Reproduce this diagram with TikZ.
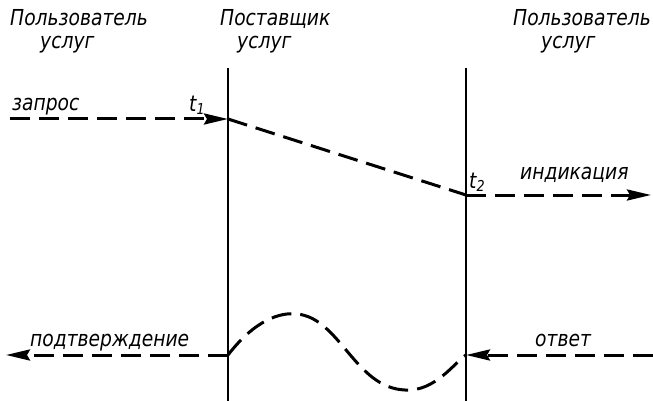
\documentclass[tikz,border=0pt]{standalone}
\usepackage{fontspec}
\setmainfont{DejaVu Sans}[FakeStretch=0.85]
\usetikzlibrary{arrows.meta}
\begin{document}
\begin{tikzpicture}[x=1pt,y=-1pt,
  lbl/.style={font=\fontsize{22}{24}\selectfont\itshape, inner sep=0pt, anchor=base west},
  life/.style={line width=1.8pt},
  msg/.style={line width=3pt, dash pattern=on 20pt off 9pt},
  tip/.style={-{Stealth[length=24pt,width=11pt,inset=3pt]}}]
\useasboundingbox (0,0) rectangle (653,401);
% lifelines
\coordinate (a1) at (228,68); \coordinate (a2) at (228,401);
\coordinate (b1) at (466,68); \coordinate (b2) at (466,401);
\draw[life] (a1) -- (a2);
\draw[life] (b1) -- (b2);
% headings
\node[lbl] (u1a) at (10,26) {Пользователь};
\node[lbl] (u1b) at (40,49) {услуг};
\node[lbl] (pa) at (220,26) {Поставщик};
\node[lbl] (pb) at (237,49) {услуг};
\node[lbl] (u2a) at (513,26) {Пользователь};
\node[lbl] (u2b) at (541,49) {услуг};
% points
\coordinate (s0) at (10,119);
\coordinate (t1) at (228,119);
\coordinate (t2) at (466,195);
\coordinate (e0) at (651,195);
\coordinate (c1) at (228,355);
\coordinate (c0) at (6,355);
\coordinate (r1) at (466,355);
\coordinate (r0) at (653,355);
% messages
\draw[msg,tip] (s0) -- (t1);
\draw[msg] (t1) -- (t2);
\draw[msg,tip] (t2) -- (e0);
\draw[msg,tip] (c1) -- (c0);
\draw[msg,tip] (r0) -- (r1);
\draw[msg] (c1) .. controls (255,320) and (280,312) .. (297,314)
   .. controls (340,318) and (355,388) .. (405,390)
   .. controls (435,392) and (455,362) .. (r1);
% labels
\node[lbl] (zap) at (12,111) {запрос};
\node[lbl] (lt1) at (189,112) {t\raisebox{-3pt}{\fontsize{15}{15}\selectfont 1}};
\node[lbl] (lt2) at (469,188) {t\raisebox{-3pt}{\fontsize{15}{15}\selectfont 2}};
\node[lbl] (ind) at (520,179) {индикация};
\node[lbl] (pod) at (30,346) {подтверждение};
\node[lbl] (otv) at (535,346) {ответ};
\end{tikzpicture}
\end{document}
